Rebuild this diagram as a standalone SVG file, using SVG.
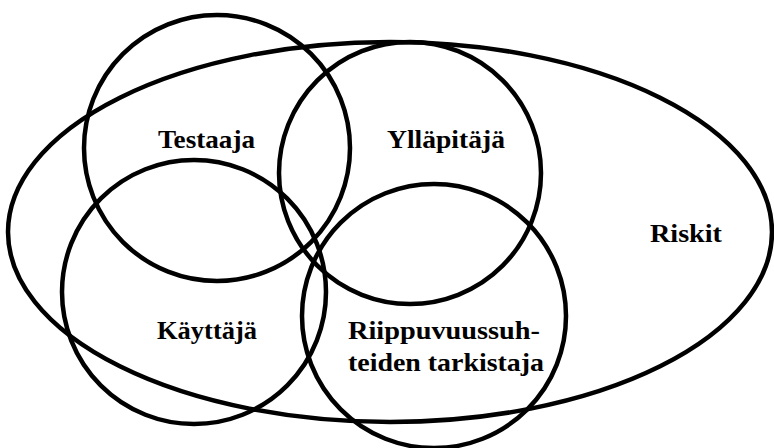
<svg xmlns="http://www.w3.org/2000/svg" width="774" height="448" viewBox="0 0 774 448">
<style>
.shape{fill:none;stroke:#000;stroke-width:4.5}
.lbl{font-family:"Liberation Serif","Times New Roman",serif;font-weight:bold;font-size:26px;fill:#000}
</style>
<rect width="774" height="448" fill="#fff"/>
<g id="riskit">
<ellipse class="shape" cx="390" cy="232" rx="382" ry="190"/>
<text class="lbl" x="650" y="242" textLength="72" lengthAdjust="spacingAndGlyphs">Riskit</text>
</g>
<g id="testaaja">
<circle class="shape" cx="217" cy="148" r="133"/>
<text class="lbl" x="158" y="148" textLength="97" lengthAdjust="spacingAndGlyphs">Testaaja</text>
</g>
<g id="yllapitaja">
<circle class="shape" cx="410" cy="173" r="131"/>
<text class="lbl" x="387" y="148" textLength="118" lengthAdjust="spacingAndGlyphs">Ylläpitäjä</text>
</g>
<g id="kayttaja">
<circle class="shape" cx="194" cy="292" r="132"/>
<text class="lbl" x="157" y="339" textLength="100" lengthAdjust="spacingAndGlyphs">Käyttäjä</text>
</g>
<g id="riippuvuus">
<circle class="shape" cx="434" cy="316" r="132"/>
<text class="lbl" x="348" y="339" textLength="192" lengthAdjust="spacingAndGlyphs">Riippuvuussuh-</text>
<text class="lbl" x="348" y="371" textLength="196" lengthAdjust="spacingAndGlyphs">teiden tarkistaja</text>
</g>
<g id="connectors"/>
</svg>
